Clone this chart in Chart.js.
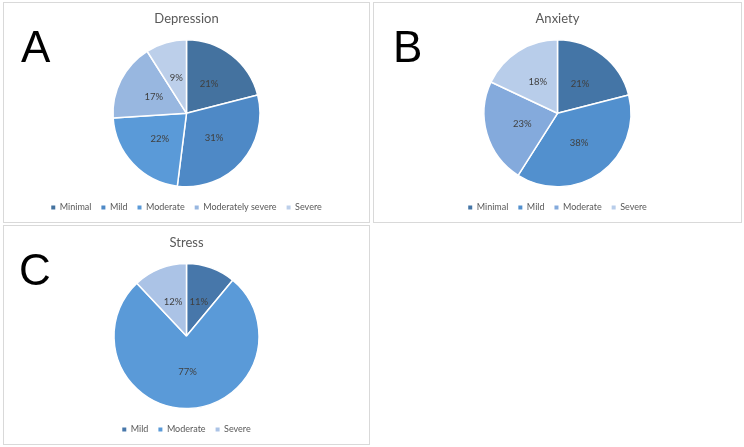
<!DOCTYPE html>
<html>
<head>
<meta charset="utf-8">
<script src="https://cdn.jsdelivr.net/npm/chart.js@4.4.1/dist/chart.umd.min.js"></script>
<style>
  html, body { margin: 0; padding: 0; background: #fff; }
  body { width: 744px; height: 447px; position: relative; overflow: hidden; }
  .panel { position: absolute; border: 1px solid #D9D9D9; box-sizing: border-box; background: #fff; }
  .panel canvas { position: absolute; left: 0; top: 0; }
  .letter { position: absolute; font-family: "Liberation Sans", Arial, sans-serif; font-size: 44px; color: #000; line-height: 1; }
</style>
</head>
<body>
<div class="panel" id="pA" style="left:3px; top:2px; width:367px; height:221px;"><canvas id="cA"></canvas></div>
<div class="panel" id="pB" style="left:373px; top:2px; width:369px; height:221px;"><canvas id="cB"></canvas></div>
<div class="panel" id="pC" style="left:3px; top:225px; width:367px; height:220px;"><canvas id="cC"></canvas></div>
<div class="letter" style="left:21px; top:25px;">A</div>
<div class="letter" style="left:393px; top:25px;">B</div>
<div class="letter" style="left:19px; top:248px;">C</div>
<script>
// ---- Data ----
const depressionLabels = ['Minimal', 'Mild', 'Moderate', 'Moderately severe', 'Severe'];
const depressionValues = [21, 31, 22, 17, 9];
const anxietyLabels = ['Minimal', 'Mild', 'Moderate', 'Severe'];
const anxietyValues = [21, 38, 23, 18];
const stressLabels = ['Mild', 'Moderate', 'Severe'];
const stressValues = [11, 77, 12];

const depressionColors = ['#44729F', '#4E89C6', '#5A9AD8', '#98B7E0', '#BCCFEA'];
const anxietyColors = ['#4475A6', '#5290CE', '#84AADC', '#B8CDEA'];
const stressColors = ['#4777AA', '#5A9AD8', '#ABC3E6'];

const FONT = 'Lato, "Open Sans", sans-serif';

const pctLabels = {
  id: 'pctLabels',
  afterDatasetsDraw(chart) {
    const ctx = chart.ctx;
    const meta = chart.getDatasetMeta(0);
    const data = chart.data.datasets[0].data;
    ctx.save();
    ctx.font = '9.5px ' + FONT;
    ctx.fillStyle = '#404040';
    ctx.textAlign = 'center';
    ctx.textBaseline = 'middle';
    meta.data.forEach((arc, i) => {
      const p = arc.tooltipPosition();
      ctx.fillText(data[i] + '%', p.x, p.y);
    });
    ctx.restore();
  }
};

function makePie(canvasId, panelId, title, labels, values, colors, radius, tTop, tBottom) {
  const panel = document.getElementById(panelId);
  const c = document.getElementById(canvasId);
  const w = panel.clientWidth, h = panel.clientHeight;
  c.width = w; c.height = h;
  c.style.width = w + 'px'; c.style.height = h + 'px';
  return new Chart(c, {
    type: 'pie',
    data: {
      labels: labels,
      datasets: [{
        data: values,
        backgroundColor: colors,
        borderColor: '#ffffff',
        borderWidth: 1.5,
        radius: radius
      }]
    },
    options: {
      responsive: false,
      animation: false,
      devicePixelRatio: 1,
      layout: { padding: { top: 0, bottom: 0, left: 0, right: 0 } },
      plugins: {
        tooltip: { enabled: false },
        title: {
          display: true,
          text: title,
          color: '#595959',
          font: { family: FONT, size: 13, weight: 'normal' },
          padding: { top: tTop, bottom: tBottom }
        },
        legend: {
          display: true,
          position: 'bottom',
          labels: {
            color: '#595959',
            font: { family: FONT, size: 9 },
            usePointStyle: true,
            pointStyle: 'rect',
            pointStyleWidth: 4,
            boxWidth: 4,
            boxHeight: 4,
            padding: 10,
            generateLabels(chart) {
              const items = Chart.overrides.pie.plugins.legend.labels.generateLabels(chart);
              items.forEach(it => { it.strokeStyle = it.fillStyle; it.lineWidth = 0; it.pointStyle = 'rect'; });
              return items;
            }
          }
        }
      }
    },
    plugins: [pctLabels]
  });
}

makePie('cA', 'pA', 'Depression', depressionLabels, depressionValues, depressionColors, 73.5, 8, 7);
makePie('cB', 'pB', 'Anxiety', anxietyLabels, anxietyValues, anxietyColors, 73.5, 8, 7);
makePie('cC', 'pC', 'Stress', stressLabels, stressValues, stressColors, 72.5, 9, 6.5);
</script>
</body>
</html>
